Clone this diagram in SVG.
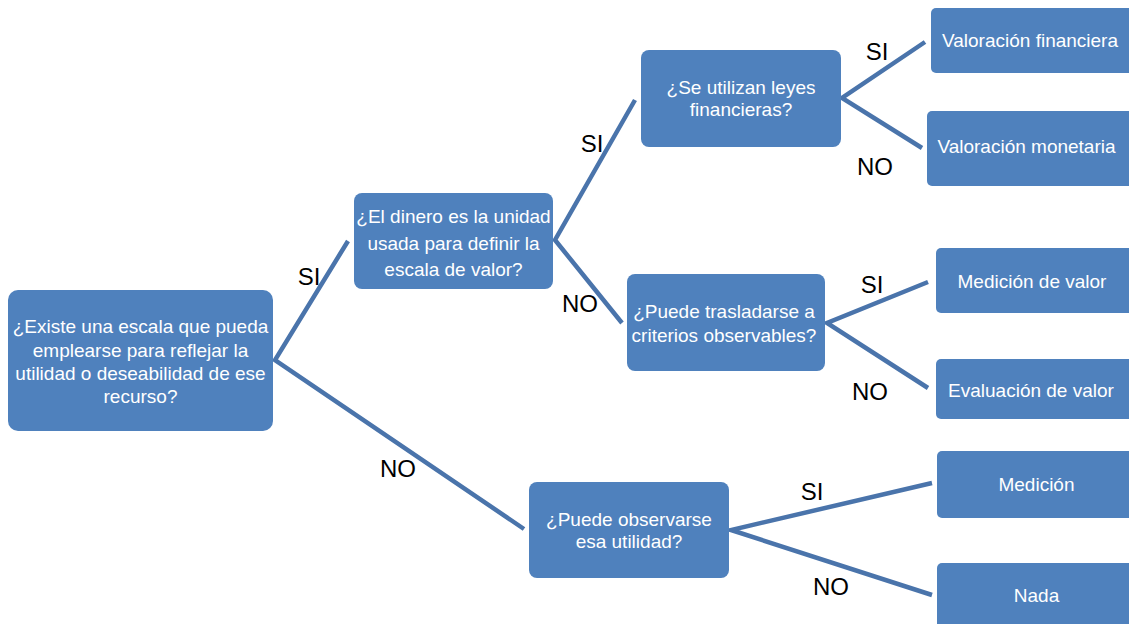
<svg xmlns="http://www.w3.org/2000/svg" width="1129" height="624" viewBox="0 0 1129 624">
  <style>
    .box { fill: #4F81BD; }
    .txt { font-family: "Liberation Sans", Arial, sans-serif; font-size: 19px; fill: #FFFFFF; text-anchor: middle; }
    .lbl { font-family: "Liberation Sans", Arial, sans-serif; font-size: 24px; fill: #000000; text-anchor: middle; }
    .edge { fill: none; stroke: #4A74AB; stroke-width: 4.5; stroke-linejoin: miter; }
  </style>
  <rect width="1129" height="624" fill="#FFFFFF"/>

  <!-- connectors with their SI / NO labels -->
  <g id="connectors">
    <polyline class="edge" points="348,241 275,360 524,529"/>
    <polyline class="edge" points="635,100 555,240 622,323"/>
    <polyline class="edge" points="925,42 842,98 922,148"/>
    <polyline class="edge" points="928,282 827,323 928,388"/>
    <polyline class="edge" points="932,483 731,530 932,595"/>
    <text class="lbl" x="309" y="285">SI</text>
    <text class="lbl" x="398" y="477">NO</text>
    <text class="lbl" x="592" y="152">SI</text>
    <text class="lbl" x="580" y="312">NO</text>
    <text class="lbl" x="877" y="60">SI</text>
    <text class="lbl" x="875" y="175">NO</text>
    <text class="lbl" x="872" y="293">SI</text>
    <text class="lbl" x="870" y="400">NO</text>
    <text class="lbl" x="812" y="500">SI</text>
    <text class="lbl" x="831" y="595">NO</text>
  </g>

  <g id="escala">
    <rect class="box" x="8" y="290" width="265" height="141" rx="10"/>
    <text class="txt" x="140.5" y="333">¿Existe una escala que pueda</text>
    <text class="txt" x="140.5" y="356.5">emplearse para reflejar la</text>
    <text class="txt" x="140.5" y="380">utilidad o deseabilidad de ese</text>
    <text class="txt" x="140.5" y="403">recurso?</text>
  </g>

  <g id="dinero">
    <rect class="box" x="354" y="193" width="199" height="96" rx="8"/>
    <text class="txt" x="453.5" y="223">¿El dinero es la unidad</text>
    <text class="txt" x="453.5" y="249.5">usada para definir la</text>
    <text class="txt" x="453.5" y="275.5">escala de valor?</text>
  </g>

  <g id="leyes">
    <rect class="box" x="641" y="50" width="200" height="97" rx="8"/>
    <text class="txt" x="741" y="94">¿Se utilizan leyes</text>
    <text class="txt" x="741" y="116">financieras?</text>
  </g>

  <g id="val-financiera">
    <rect class="box" x="931" y="8" width="210" height="65" rx="5"/>
    <text class="txt" x="1030" y="46.5">Valoración financiera</text>
  </g>

  <g id="val-monetaria">
    <rect class="box" x="927" y="111" width="214" height="75" rx="5"/>
    <text class="txt" x="1026.5" y="153">Valoración monetaria</text>
  </g>

  <g id="trasladarse">
    <rect class="box" x="627" y="274" width="198" height="97" rx="8"/>
    <text class="txt" x="724" y="318">¿Puede trasladarse a</text>
    <text class="txt" x="724" y="342">criterios observables?</text>
  </g>

  <g id="medicion-valor">
    <rect class="box" x="936" y="248" width="205" height="65" rx="5"/>
    <text class="txt" x="1032" y="288">Medición de valor</text>
  </g>

  <g id="evaluacion-valor">
    <rect class="box" x="936" y="359" width="205" height="60" rx="5"/>
    <text class="txt" x="1031" y="396.5">Evaluación de valor</text>
  </g>

  <g id="observarse">
    <rect class="box" x="529" y="482" width="200" height="96" rx="8"/>
    <text class="txt" x="629" y="525.5">¿Puede observarse</text>
    <text class="txt" x="629" y="548">esa utilidad?</text>
  </g>

  <g id="medicion">
    <rect class="box" x="937" y="451" width="204" height="67" rx="5"/>
    <text class="txt" x="1036.5" y="491">Medición</text>
  </g>

  <g id="nada">
    <rect class="box" x="937" y="563" width="204" height="80" rx="5"/>
    <text class="txt" x="1036.5" y="601.5">Nada</text>
  </g>
</svg>
